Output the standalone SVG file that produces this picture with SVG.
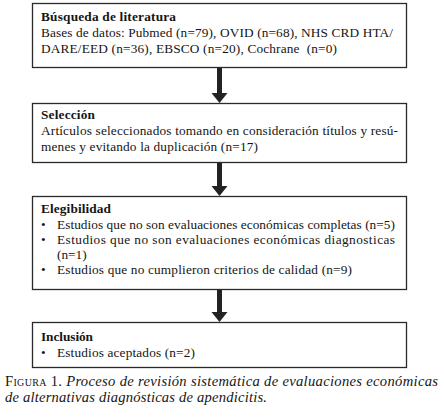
<svg xmlns="http://www.w3.org/2000/svg" width="444" height="418" viewBox="0 0 444 418" font-family="'Liberation Serif', 'DejaVu Serif', serif">
<style>
text{font-family:'Liberation Serif','DejaVu Serif',serif;font-size:13.3px;fill:#151515;white-space:pre}
.h{font-weight:bold}
.box{fill:#fff;stroke:#2a2a2a;stroke-width:1.3}
.conn{stroke:#222;stroke-width:5;fill:none}
.cap{font-size:14.6px}
.it{font-style:italic}
.sc{font-variant:small-caps}
</style>
<defs>
<marker id="ah" markerUnits="userSpaceOnUse" markerWidth="11" markerHeight="17" refX="0" refY="8" orient="auto">
<path d="M0,0 L10,8 L0,16 Z" fill="#222"/>
</marker>
</defs>
<rect width="444" height="418" fill="#fff"/>
<g id="connectors">
<line class="conn" x1="219.5" y1="68" x2="219.5" y2="93" marker-end="url(#ah)"/>
<line class="conn" x1="219.5" y1="162" x2="219.5" y2="186" marker-end="url(#ah)"/>
<line class="conn" x1="219.5" y1="289" x2="219.5" y2="312" marker-end="url(#ah)"/>
</g>
<g id="busqueda">
<rect class="box" x="32.5" y="3.5" width="374" height="64"/>
<text class="h" x="41" y="21" textLength="135">Búsqueda de literatura</text>
<text x="41" y="37" textLength="352">Bases de datos: Pubmed (n=79), OVID (n=68), NHS CRD HTA/</text>
<text x="41" y="53" textLength="296">DARE/EED (n=36), EBSCO (n=20), Cochrane  (n=0)</text>
</g>
<g id="seleccion">
<rect class="box" x="32.5" y="103.5" width="374" height="59"/>
<text class="h" x="41" y="119" textLength="54">Selección</text>
<text x="41" y="135" textLength="357">Artículos seleccionados tomando en consideración títulos y resú-</text>
<text x="41" y="151" textLength="217">menes y evitando la duplicación (n=17)</text>
</g>
<g id="elegibilidad">
<rect class="box" x="32.5" y="196.5" width="374" height="93"/>
<text class="h" x="41" y="213" textLength="70">Elegibilidad</text>
<text x="41" y="229">•</text>
<text x="57" y="229" textLength="338">Estudios que no son evaluaciones económicas completas (n=5)</text>
<text x="41" y="244">•</text>
<text x="57" y="244" textLength="338">Estudios que no son evaluaciones económicas diagnosticas</text>
<text x="57" y="259">(n=1)</text>
<text x="41" y="274">•</text>
<text x="57" y="274" textLength="295">Estudios que no cumplieron criterios de calidad (n=9)</text>
</g>
<g id="inclusion">
<rect class="box" x="32.5" y="322.5" width="374" height="45"/>
<text class="h" x="41" y="341" textLength="52">Inclusión</text>
<text x="41" y="357">•</text>
<text x="57" y="357" textLength="138">Estudios aceptados (n=2)</text>
</g>
<g id="caption">
<text class="cap" x="5" y="386" textLength="433"><tspan class="sc">Figura</tspan> 1. <tspan class="it">Proceso de revisión sistemática de evaluaciones económicas</tspan></text>
<text class="cap it" x="5" y="402" textLength="262">de alternativas diagnósticas de apendicitis.</text>
</g>
</svg>
